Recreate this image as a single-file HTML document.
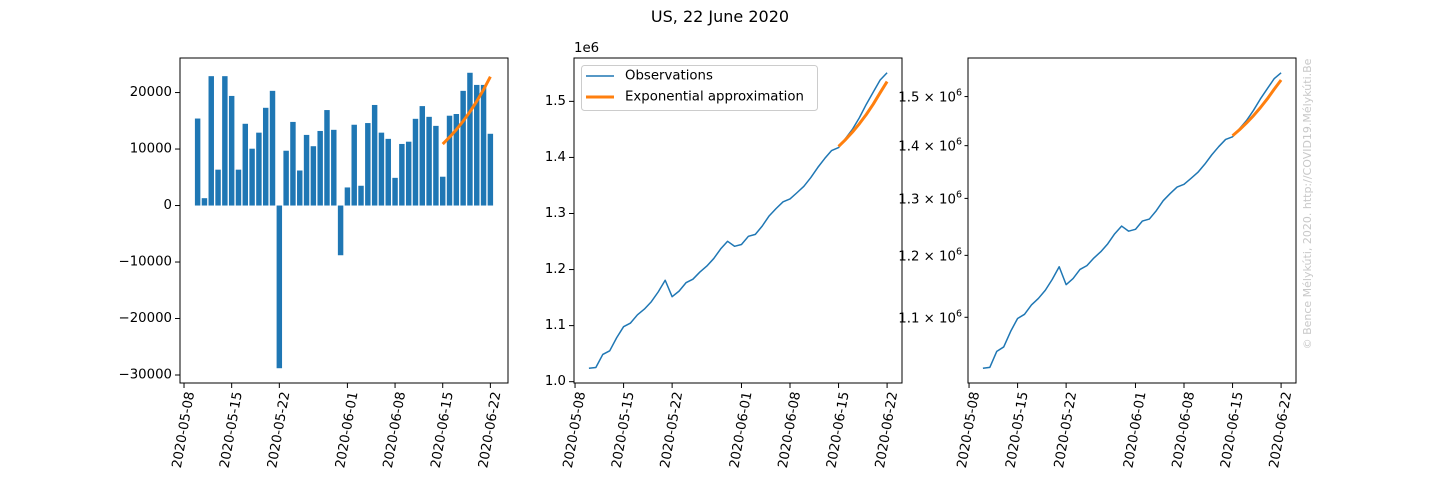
<!DOCTYPE html>
<html><head><meta charset="utf-8"><style>
html,body{margin:0;padding:0;background:#fff;}
svg{display:block;font-family:"DejaVu Sans","Liberation Sans",sans-serif;}
</style></head><body>
<svg id="fig" width="1440" height="480" viewBox="0 0 1440 480" xmlns="http://www.w3.org/2000/svg">
<rect width="1440" height="480" fill="#fff"/>
<text x="720" y="22" font-size="16" text-anchor="middle">US, 22 June 2020</text>
<text transform="translate(1311,204) rotate(-90)" font-size="11" fill="#c8c8c8" text-anchor="middle">© Bence Mélykúti, 2020. http://COVID19.Mélykúti.Be</text>
</svg>
<script>
// ---- data ----
const startDate = "2020-05-10";
const dailyCases = [15400,1300,22900,6350,22900,19400,6350,14470,10060,12900,17300,20300,-28800,9700,14800,6200,12500,10500,13200,16900,13400,-8800,3200,14300,3500,14600,17800,12900,11800,4900,10900,11300,15350,17600,15700,14100,5100,15900,16200,20300,23500,21350,21350,12700];
const cumulative = [1024000,1025300,1048600,1055100,1078400,1098100,1104600,1119300,1129500,1142600,1160200,1180900,1151600,1161500,1176500,1182800,1195500,1206200,1219600,1236800,1250400,1241500,1244700,1259300,1262800,1277700,1295800,1308900,1320900,1325900,1337000,1348500,1364100,1382000,1398000,1412300,1417500,1433700,1450100,1470800,1494700,1516400,1538100,1551000];
const fitStartDate = "2020-06-15";
const fitDaily = [10880,12090,13440,14940,16600,18450,20510,22800];
const fitCumulative = [1419600,1431700,1445100,1460000,1476600,1495000,1515500,1535300];
const dateTicks = ["2020-05-08","2020-05-15","2020-05-22","2020-06-01","2020-06-08","2020-06-15","2020-06-22"];
const barTicks = [-30000,-20000,-10000,0,10000,20000];
const linTicks = [1.0,1.1,1.2,1.3,1.4,1.5];
const logTicks = [1.1,1.2,1.3,1.4,1.5];

const NS="http://www.w3.org/2000/svg";
const svg=document.getElementById('fig');
function mk(tag,attrs,parent){const e=document.createElementNS(NS,tag);for(const k in attrs)e.setAttribute(k,attrs[k]);(parent||svg).appendChild(e);return e;}
const DAY=86400000;
function dnum(s){return Date.parse(s+"T00:00:00Z")/DAY;}
const d0=dnum(startDate);
const n=dailyCases.length;
const fit0=dnum(fitStartDate);

const T=58,B=383;
function makeX(left,right,lo,hi){return d=>left+(d-lo)/(hi-lo)*(right-left);}
function drawFrame(g,left){mk('rect',{x:left,y:T,width:328,height:B-T,fill:'none',stroke:'#000','stroke-width':1},g);}
function drawDateTicks(g,X,prefix){
  dateTicks.forEach(s=>{const x=X(dnum(s));
    const t=mk('line',{x1:x,x2:x,y1:B,y2:B+5,stroke:'#000','stroke-width':1},g);
    
    
    const l=mk('text',{transform:`translate(${x},${430}) rotate(-80)`,'font-size':13.3,'text-anchor':'middle','dominant-baseline':'central'},g);
    l.textContent=s;
    
    
  });
}
function polyline(g,pts,color,w,name){const p=mk('polyline',{points:pts.map(p=>p.join(',')).join(' '),fill:'none',stroke:color,'stroke-width':w,'stroke-linejoin':'round'},g);return p;}

// ---- panel 1: bars ----
(function(){
  const g=mk('g',{});
  const L=180,R=508;
  const xmin=d0-0.4,xmax=d0+n-1+0.4,m=(xmax-xmin)*0.05;
  const X=makeX(L,R,xmin-m,xmax+m);
  const vals=dailyCases.concat(fitDaily);
  const ymin=Math.min(0,...vals),ymax=Math.max(...vals),ym=(ymax-ymin)*0.05;
  const lo=ymin-ym,hi=ymax+ym;const Y=v=>B-(v-lo)/(hi-lo)*(B-T);
  const bw=X(1)-X(0);
  dailyCases.forEach((v,i)=>{const x=X(d0+i);
    const r=mk('rect',{x:x-0.4*bw,width:0.8*bw,y:Math.min(Y(v),Y(0)),height:Math.abs(Y(v)-Y(0)),fill:'#1f77b4'},g);
    
    
  });
  polyline(g,fitDaily.map((v,i)=>[X(fit0+i),Y(v)]),'#ff7f0e',3,'daily-exponential-fit');
  drawFrame(g,L);
  barTicks.forEach(v=>{const y=Y(v);
    mk('line',{x1:L-5,x2:L,y1:y,y2:y,stroke:'#000'},g);
    const t=mk('text',{x:L-8,y:y,'font-size':13.3,'text-anchor':'end','dominant-baseline':'central'},g);
    t.textContent=v<0?'\u2212'+(-v):String(v);
    
    
  });
  drawDateTicks(g,X,'bar');
})();

// ---- panel 2: linear cumulative ----
(function(){
  const g=mk('g',{});
  const L=574,R=902;
  const xmin=d0,xmax=d0+n-1,m=(xmax-xmin)*0.05;
  const X=makeX(L,R,xmin-m,xmax+m);
  const vals=cumulative.concat(fitCumulative);
  const ymin=Math.min(...vals),ymax=Math.max(...vals),ym=(ymax-ymin)*0.05;
  const lo=ymin-ym,hi=ymax+ym;const Y=v=>B-(v-lo)/(hi-lo)*(B-T);
  polyline(g,cumulative.map((v,i)=>[X(d0+i),Y(v)]),'#1f77b4',1.5,'observations-line');
  polyline(g,fitCumulative.map((v,i)=>[X(fit0+i),Y(v)]),'#ff7f0e',3,'exponential-fit-line');
  drawFrame(g,L);
  linTicks.forEach(v=>{const y=Y(v*1e6);
    mk('line',{x1:L-5,x2:L,y1:y,y2:y,stroke:'#000'},g);
    const t=mk('text',{x:L-8,y:y,'font-size':13.3,'text-anchor':'end','dominant-baseline':'central'},g);
    t.textContent=v.toFixed(1);
    
    
  });
  const off=mk('text',{x:L,y:52,'font-size':13.3},g);off.textContent='1e6';
  
  
  const lg=mk('g',{},g);
  mk('rect',{x:581.5,y:65.5,width:236,height:45,rx:3,fill:'#fff',stroke:'#ccc'},lg);
  mk('line',{x1:586,x2:614,y1:76,y2:76,stroke:'#1f77b4','stroke-width':1.5},lg);
  mk('line',{x1:586,x2:614,y1:97,y2:97,stroke:'#ff7f0e','stroke-width':3},lg);
  const a=mk('text',{x:625,y:76,'font-size':13.3,'dominant-baseline':'central'},lg);a.textContent='Observations';
  
  
  const b=mk('text',{x:625,y:97,'font-size':13.3,'dominant-baseline':'central'},lg);b.textContent='Exponential approximation';
  
  
  drawDateTicks(g,X,'linear');
})();

// ---- panel 3: log cumulative ----
(function(){
  const g=mk('g',{});
  const L=968,R=1296;
  const xmin=d0,xmax=d0+n-1,m=(xmax-xmin)*0.05;
  const X=makeX(L,R,xmin-m,xmax+m);
  const vals=cumulative.concat(fitCumulative).map(Math.log);
  const ymin=Math.min(...vals),ymax=Math.max(...vals),ym=(ymax-ymin)*0.05;
  const lo=ymin-ym,hi=ymax+ym;const Y=v=>B-(Math.log(v)-lo)/(hi-lo)*(B-T);
  polyline(g,cumulative.map((v,i)=>[X(d0+i),Y(v)]),'#1f77b4',1.5,'observations-log-line');
  polyline(g,fitCumulative.map((v,i)=>[X(fit0+i),Y(v)]),'#ff7f0e',3,'exponential-fit-log-line');
  drawFrame(g,L);
  logTicks.forEach(v=>{const y=Y(v*1e6);
    mk('line',{x1:L-3.5,x2:L,y1:y,y2:y,stroke:'#000'},g);
    const t=mk('text',{x:L-6,y:y+5,'font-size':13.3,'text-anchor':'end'},g);
    t.innerHTML=v.toFixed(1)+' \u00d7 10<tspan font-size="9.5" dy="-6">6</tspan>';
    
    
  });
  drawDateTicks(g,X,'log');
})();
</script>
</body></html>
